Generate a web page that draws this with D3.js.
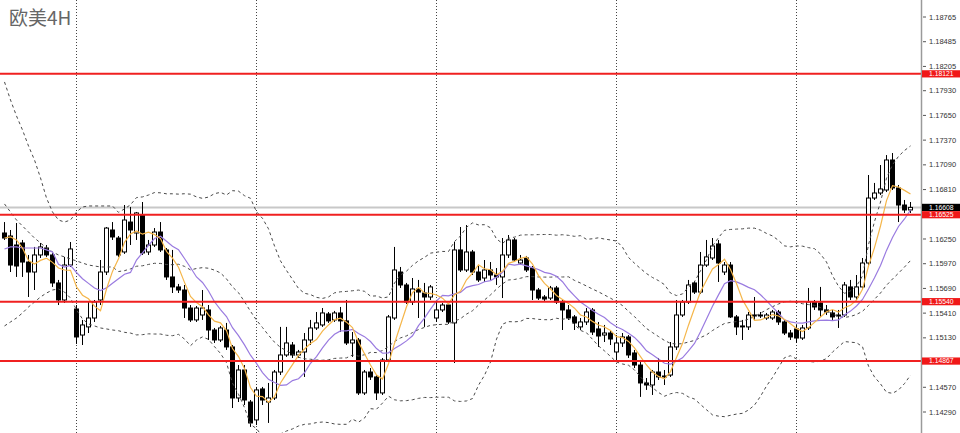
<!DOCTYPE html>
<html><head><meta charset="utf-8">
<script src="https://cdn.jsdelivr.net/npm/d3@7/dist/d3.min.js"></script>
<style>html,body{margin:0;padding:0;background:#fff}svg{display:block}</style>
</head><body>
<svg id="chart" width="960" height="433"></svg>
<script>
// ===== DATA (EURUSD 4H) =====
const title = "欧美4H";
const opens = [1.16318,1.16284,1.16182,1.16205,1.15989,1.15876,1.16069,1.16148,1.16069,1.15752,
1.15559,1.15955,1.15457,1.15162,1.15254,1.15355,1.15559,1.15876,1.16352,1.16261,
1.16103,1.16442,1.16318,1.16522,1.16103,1.16182,1.16329,1.16126,1.15820,1.15707,
1.15672,1.15468,1.15333,1.15389,1.15446,1.15219,1.15106,1.15219,1.15027,1.14449,
1.14766,1.14403,1.14200,1.14551,1.14403,1.14449,1.14743,1.14936,1.15049,1.14936,
1.14970,1.15106,1.15242,1.15276,1.15401,1.15333,1.15412,1.15322,1.15072,1.15106,
1.14506,1.14743,1.14687,1.14506,1.14879,1.15355,1.15876,1.15729,1.15536,1.15684,
1.15638,1.15593,1.15355,1.15446,1.15502,1.15299,1.16126,1.15899,1.16103,1.15876,
1.15808,1.15899,1.15842,1.15820,1.16069,1.16239,1.15978,1.16035,1.15921,1.15672,
1.15593,1.15581,1.15695,1.15536,1.15446,1.15367,1.15254,1.15310,1.15446,1.15231,
1.15162,1.15185,1.14970,1.15072,1.15140,1.14959,1.14822,1.14619,1.14596,1.14743,
1.14698,1.14709,1.15027,1.15389,1.15536,1.15752,1.15649,1.15955,1.16035,1.16194,
1.15876,1.15955,1.15367,1.15265,1.15254,1.15389,1.15378,1.15355,1.15355,1.15423,
1.15310,1.15185,1.15231,1.15128,1.15242,1.15536,1.15525,1.15446,1.15412,1.15378,
1.15389,1.15707,1.15593,1.15707,1.15978,1.16714,1.16771,1.16805,1.17145,1.16828,
1.16635,1.16579];
const highs = [1.16442,1.16352,1.16431,1.16239,1.16069,1.16160,1.16205,1.16182,1.16092,1.15786,
1.16047,1.16216,1.15502,1.15333,1.15536,1.15559,1.16012,1.16386,1.16442,1.16284,
1.16635,1.16613,1.16556,1.16669,1.16239,1.16374,1.16442,1.16148,1.16126,1.15741,
1.15729,1.15502,1.15491,1.15672,1.15502,1.15242,1.15265,1.15299,1.15049,1.14822,
1.14822,1.14426,1.14574,1.14574,1.14619,1.14766,1.15254,1.15254,1.15083,1.14993,
1.15185,1.15333,1.15423,1.15468,1.15423,1.15435,1.15480,1.15559,1.15196,1.15128,
1.14766,1.14788,1.14709,1.14902,1.15389,1.16160,1.15933,1.15752,1.15808,1.15786,
1.15752,1.15729,1.15559,1.15525,1.15525,1.16216,1.16386,1.16408,1.16126,1.15955,
1.16012,1.15989,1.15921,1.16261,1.16295,1.16261,1.16069,1.16058,1.15944,1.15695,
1.15615,1.15718,1.15718,1.15559,1.15502,1.15389,1.15355,1.15468,1.15468,1.15310,
1.15276,1.15219,1.15162,1.15185,1.15162,1.14993,1.14856,1.14675,1.14766,1.14902,
1.14766,1.15083,1.15559,1.15559,1.15786,1.15775,1.16103,1.16239,1.16261,1.16239,
1.15989,1.15989,1.15389,1.15333,1.15423,1.15593,1.15423,1.15412,1.15446,1.15446,
1.15333,1.15219,1.15276,1.15276,1.15695,1.15559,1.15707,1.15502,1.15446,1.15446,
1.15763,1.15786,1.15842,1.16035,1.16975,1.16885,1.17088,1.17201,1.17224,1.16862,
1.16692,1.16669];
const lows = [1.16239,1.15876,1.15820,1.15820,1.15593,1.15672,1.16035,1.16047,1.15707,1.15502,
1.15525,1.15933,1.15061,1.15049,1.15185,1.15310,1.15502,1.15842,1.16239,1.16047,
1.16081,1.16182,1.16239,1.16069,1.16069,1.16160,1.16103,1.15786,1.15638,1.15638,
1.15355,1.15310,1.15310,1.15333,1.15106,1.15072,1.15083,1.14993,1.14335,1.14403,
1.14369,1.14121,1.14143,1.14369,1.14166,1.14426,1.14709,1.14914,1.14902,1.14902,
1.14687,1.15049,1.15219,1.15254,1.15299,1.15310,1.15196,1.15049,1.14914,1.14483,
1.14483,1.14653,1.14426,1.14483,1.14856,1.15333,1.15695,1.15514,1.15502,1.15355,
1.15254,1.15559,1.15310,1.15423,1.15288,1.14845,1.15876,1.15876,1.15842,1.15763,
1.15763,1.15786,1.15729,1.15581,1.16035,1.15989,1.15955,1.15876,1.15559,1.15559,
1.15548,1.15559,1.15514,1.15219,1.15333,1.15219,1.15219,1.15276,1.15162,1.15027,
1.15083,1.15049,1.14856,1.15027,1.14902,1.14788,1.14461,1.14540,1.14483,1.14653,
1.14596,1.14687,1.14993,1.15367,1.15514,1.15627,1.15627,1.15933,1.16012,1.15763,
1.15842,1.15355,1.15162,1.15106,1.15219,1.15333,1.15355,1.15333,1.15333,1.15276,
1.15162,1.15106,1.15072,1.15106,1.15219,1.15446,1.15367,1.15389,1.15333,1.15242,
1.15367,1.15559,1.15559,1.15672,1.15955,1.16692,1.16748,1.16782,1.16805,1.16442,
1.16545,1.16545];
const closes = [1.16261,1.15955,1.15944,1.15989,1.15876,1.16069,1.16160,1.16069,1.15752,1.15559,
1.15955,1.16137,1.15140,1.15276,1.15355,1.15536,1.15876,1.16374,1.16273,1.16069,
1.16465,1.16352,1.16545,1.16092,1.16182,1.16329,1.16126,1.15820,1.15707,1.15672,
1.15468,1.15333,1.15468,1.15468,1.15219,1.15106,1.15242,1.15027,1.14449,1.14766,
1.14426,1.14166,1.14540,1.14426,1.14449,1.14743,1.14936,1.15072,1.14936,1.14970,
1.15106,1.15242,1.15299,1.15412,1.15322,1.15412,1.15322,1.15072,1.15106,1.14506,
1.14743,1.14687,1.14506,1.14879,1.15367,1.15899,1.15729,1.15536,1.15684,1.15649,
1.15593,1.15707,1.15446,1.15502,1.15310,1.16126,1.15899,1.16103,1.15876,1.15786,
1.15899,1.15842,1.15820,1.16069,1.16239,1.16012,1.16012,1.15899,1.15672,1.15581,
1.15570,1.15695,1.15536,1.15446,1.15355,1.15299,1.15310,1.15423,1.15196,1.15151,
1.15185,1.15117,1.15072,1.15140,1.14936,1.14822,1.14619,1.14596,1.14743,1.14687,
1.14687,1.15027,1.15389,1.15536,1.15729,1.15649,1.15955,1.16047,1.16171,1.15978,
1.15955,1.15367,1.15254,1.15254,1.15389,1.15378,1.15389,1.15389,1.15423,1.15310,
1.15185,1.15140,1.15128,1.15242,1.15536,1.15480,1.15446,1.15423,1.15367,1.15389,
1.15729,1.15593,1.15707,1.15978,1.16714,1.16771,1.16817,1.17145,1.16828,1.16635,
1.16579,1.16608];

// indicator values read at the left edge, before enough bars exist on screen
const ma5Start  = [1.16261,1.16273,1.16239,1.16148];
const ma10Start = [1.16137,1.16160,1.16160,1.16148,1.16148,1.16148,1.16148,1.16126,1.16103];
const bbUpperStart = [1.18029,1.17825,1.17644,1.17485,1.17304,1.17145,1.16942,1.16714,1.16556,1.16465,
                      1.16442,1.16465,1.16556,1.16613,1.16624,1.16624,1.16624,1.16624,1.16624];
const bbMidStart   = [1.16647,1.16556,1.16465,1.16397,1.16329,1.16261,1.16205,1.16148,1.16103,1.16069,
                      1.16047,1.16024,1.16001,1.15978,1.15955,1.15944,1.15933,1.15933,1.15933];
const bbLowerStart = [1.15265,1.15310,1.15355,1.15412,1.15480,1.15536,1.15593,1.15638,1.15672,1.15684,
                      1.15649,1.15581,1.15446,1.15344,1.15288,1.15265,1.15242,1.15231,1.15219];

const weekStarts = [12, 42, 72, 102, 132];
const redLevels = [1.18121, 1.16525, 1.15540, 1.14867];
const bidPrice = 1.16608;
const tickValues = [1.18765,1.18485,1.18205,1.17930,1.17650,1.17370,1.17090,1.16810,
                    1.16250,1.15970,1.15690,1.15410,1.15130,1.14570,1.14290];

// ===== DRAW =====
const W = 960, H = 433, plotRight = 921;
const svg = d3.select("#chart");
const N = closes.length;
const x = d3.scaleLinear().domain([0, N - 1]).range([4.5, 910.5]);
const y = d3.scaleLinear().domain([1.14290, 1.18765]).range([412, 17]);

const bars = d3.range(N).map(i => ({i, o: opens[i], h: highs[i], l: lows[i], c: closes[i]}));

function sma(arr, i, n) { let s = 0; for (let k = i - n + 1; k <= i; k++) s += arr[k]; return s / n; }
const ma5 = bars.map(b => b.i >= 4 ? sma(closes, b.i, 5) : ma5Start[b.i]);
const ma10 = bars.map(b => b.i >= 9 ? sma(closes, b.i, 10) : ma10Start[b.i]);
const bb = bars.map(b => {
  if (b.i < 19) return {u: bbUpperStart[b.i], m: bbMidStart[b.i], l: bbLowerStart[b.i]};
  const m = sma(closes, b.i, 20);
  let v = 0; for (let k = b.i - 19; k <= b.i; k++) v += (closes[k] - m) ** 2;
  const sd = Math.sqrt(v / 20);
  return {u: m + 2 * sd, m, l: m - 2 * sd};
});

svg.append("defs").append("clipPath").attr("id", "plot")
  .append("rect").attr("x", 0).attr("y", 0).attr("width", plotRight).attr("height", H);
const g = svg.append("g").attr("clip-path", "url(#plot)");

// week separators
g.selectAll("line.sep").data(weekStarts).join("line")
  .attr("x1", d => x(d)).attr("x2", d => x(d)).attr("y1", 0).attr("y2", H)
  .attr("stroke", "#444").attr("stroke-width", 1).attr("stroke-dasharray", "1,2");

// bid line
g.append("line").attr("x1", 0).attr("x2", plotRight)
  .attr("y1", y(bidPrice)).attr("y2", y(bidPrice))
  .attr("stroke", "#c8c8c8").attr("stroke-width", 2);

// candles
const cg = g.append("g");
cg.selectAll("line.wick").data(bars).join("line")
  .attr("x1", d => x(d.i)).attr("x2", d => x(d.i))
  .attr("y1", d => y(d.h)).attr("y2", d => y(d.l))
  .attr("stroke", "#000").attr("stroke-width", 1);
cg.selectAll("rect.body").data(bars).join("rect")
  .attr("x", d => d.c >= d.o ? x(d.i) - 2 : x(d.i) - 2.5)
  .attr("width", d => d.c >= d.o ? 4 : 5)
  .attr("y", d => {
    const t = y(Math.max(d.o, d.c));
    return d.c >= d.o ? t : t - 0.5;
  })
  .attr("height", d => {
    const t = y(Math.max(d.o, d.c)), b = y(Math.min(d.o, d.c));
    return Math.max(d.c >= d.o ? b - t : b - t + 1, 1);
  })
  .attr("fill", d => d.c >= d.o ? "#fff" : "#000")
  .attr("stroke", d => d.c >= d.o ? "#000" : "none")
  .attr("stroke-width", 1);

// Bollinger bands (20,2)
const bandStyle = sel => sel.attr("fill", "none").attr("stroke", "#4a4a4a")
  .attr("stroke-width", 1).attr("stroke-dasharray", "3,3");
["u", "m", "l"].forEach(k => {
  g.append("path").datum(bars)
    .attr("d", d3.line().x(d => x(d.i)).y(d => y(bb[d.i][k])))
    .call(bandStyle);
});

// moving averages
g.append("path").datum(bars)
  .attr("d", d3.line().x(d => x(d.i)).y(d => y(ma10[d.i])))
  .attr("fill", "none").attr("stroke", "#9a7be0").attr("stroke-width", 1.2);
g.append("path").datum(bars)
  .attr("d", d3.line().x(d => x(d.i)).y(d => y(ma5[d.i])))
  .attr("fill", "none").attr("stroke", "#f5b64a").attr("stroke-width", 1.2);

// red horizontal levels
g.selectAll("line.lvl").data(redLevels).join("line")
  .attr("x1", 0).attr("x2", plotRight)
  .attr("y1", d => y(d)).attr("y2", d => y(d))
  .attr("stroke", "#f02020").attr("stroke-width", 2);

// right price axis
const ax = svg.append("g");
ax.append("line").attr("x1", plotRight + 0.5).attr("x2", plotRight + 0.5)
  .attr("y1", 0).attr("y2", H).attr("stroke", "#9a9a9a").attr("stroke-width", 1.5);
const tk = ax.selectAll("g.tick").data(tickValues).join("g")
  .attr("transform", d => `translate(0,${y(d)})`);
tk.append("line").attr("x1", plotRight + 2).attr("x2", plotRight + 5)
  .attr("stroke", "#555").attr("stroke-width", 1);
tk.append("text").attr("x", plotRight + 8).attr("dy", "0.35em")
  .attr("font-family", "Liberation Sans, Arial, sans-serif").attr("font-size", 7.5)
  .attr("fill", "#333").text(d => d.toFixed(5));

// price label boxes
const boxes = redLevels.map(v => ({v, col: "#f01818"})).concat([{v: bidPrice, col: "#000"}]);
const bx = ax.selectAll("g.box").data(boxes).join("g")
  .attr("transform", d => `translate(0,${y(d.v)})`);
bx.append("rect").attr("x", plotRight + 1).attr("y", -3.6).attr("width", W - plotRight - 1).attr("height", 7.2)
  .attr("fill", d => d.col);
bx.append("text").attr("x", plotRight + 8).attr("dy", "0.35em")
  .attr("font-family", "Liberation Sans, Arial, sans-serif").attr("font-size", 6.8)
  .attr("fill", "#fff").text(d => d.v.toFixed(5));

// title
svg.append("text").attr("x", 9).attr("y", 25)
  .attr("font-family", "Noto Sans CJK SC, sans-serif").attr("font-size", 19)
  .attr("fill", "#666").text(title);
</script>
</body></html>
